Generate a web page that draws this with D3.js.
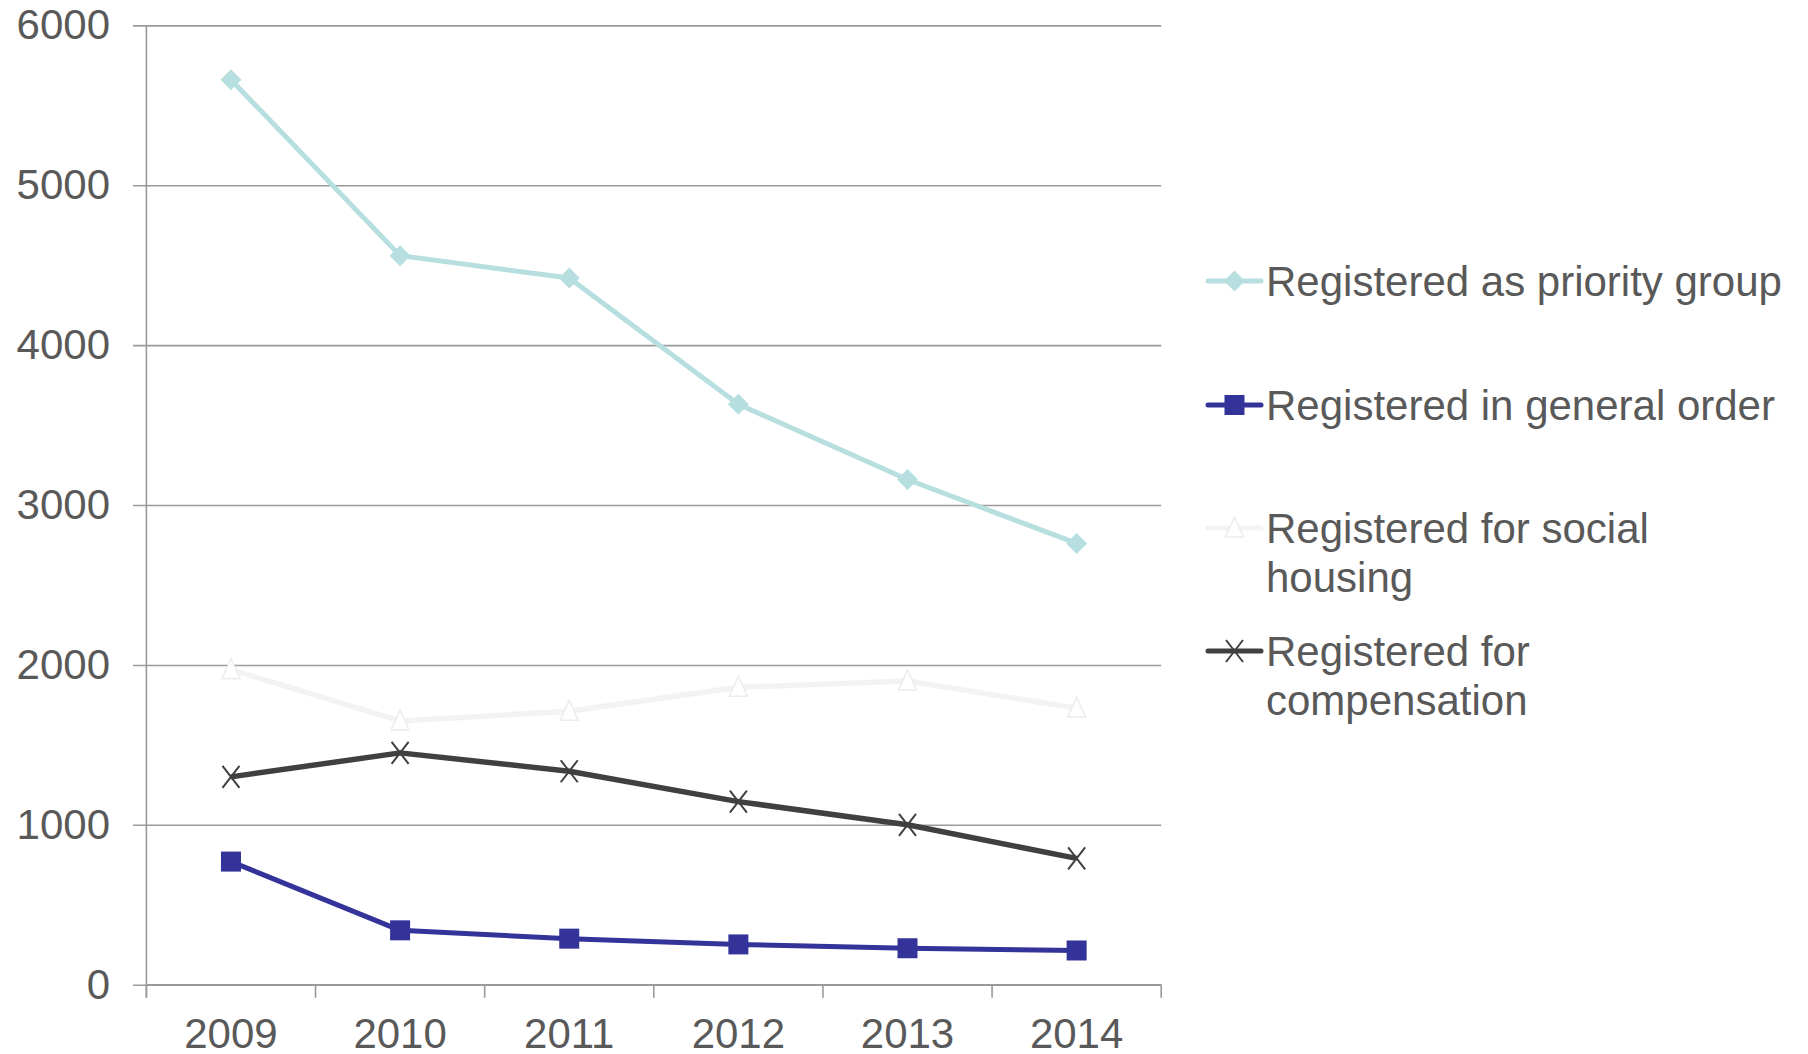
<!DOCTYPE html>
<html><head><meta charset="utf-8">
<script src="https://cdn.jsdelivr.net/npm/d3@7"></script>
<style>
html,body{margin:0;padding:0;background:#fff;}
svg{display:block;}
text{font-family:"Liberation Sans",Arial,sans-serif;fill:#595959;}
</style></head>
<body>
<svg id="chart" width="1808" height="1054"></svg>
<script>
const years = ["2009","2010","2011","2012","2013","2014"];
const yTicks = [0,1000,2000,3000,4000,5000,6000];
const priority = [5660,4560,4420,3630,3160,2760];
const general = [770,340,288,252,228,214];
const social = [1970,1650,1710,1860,1900,1730];
const compensation = [1300,1450,1335,1145,1000,790];
const seriesNames = ["Registered as priority group","Registered in general order","Registered for social housing","Registered for compensation"];
const legendLines = [["Registered as priority group"],["Registered in general order"],["Registered for social","housing"],["Registered for","compensation"]];

(function(){
const svg = d3.select("#chart");
const pLeft = 146.4, pRight = 1161.2, pTop = 25.4, pBottom = 984.7;
const x = d3.scaleBand().domain(years).range([pLeft,pRight]).padding(0);
const y = d3.scaleLinear().domain([0,6000]).range([pBottom,pTop]);
const FS = 42;

// gridlines + y labels
const yAxis = d3.axisLeft(y).tickValues(yTicks).tickSize(-(pRight-133)).tickPadding(23).tickFormat(d3.format("d"));
const gy = svg.append("g").attr("transform","translate(133,0)").call(yAxis);
gy.select(".domain").remove();
gy.selectAll(".tick line").attr("stroke","#9a9a9a").attr("stroke-width",1.6);
gy.selectAll(".tick text").style("font-size",FS+"px").attr("fill","#595959").attr("font-family","Liberation Sans, Arial, sans-serif");

// y axis line
svg.append("line").attr("x1",pLeft).attr("x2",pLeft).attr("y1",pTop).attr("y2",pBottom+13)
  .attr("stroke","#9a9a9a").attr("stroke-width",1.6);
// x axis
svg.append("line").attr("x1",pLeft).attr("x2",pRight).attr("y1",pBottom).attr("y2",pBottom)
  .attr("stroke","#9a9a9a").attr("stroke-width",1.6);
const bounds = years.map(d=>x(d)).concat([x(years[years.length-1])+x.bandwidth()]);
svg.selectAll(".xt").data(bounds).enter().append("line")
  .attr("x1",d=>d).attr("x2",d=>d).attr("y1",pBottom).attr("y2",pBottom+13)
  .attr("stroke","#9a9a9a").attr("stroke-width",1.6);
svg.selectAll(".xl").data(years).enter().append("text")
  .attr("x",d=>x(d)+x.bandwidth()/2).attr("y",1048)
  .attr("text-anchor","middle").style("font-size",FS+"px").text(d=>d);

const cx = d=>x(d)+x.bandwidth()/2;
const line = d3.line().x((v,i)=>cx(years[i])).y(v=>y(v));

const series = [
  {vals:social, color:"#f3f3f3", w:5.5, marker:"tri"},
  {vals:compensation, color:"#404040", w:5.5, marker:"x"},
  {vals:general, color:"#333399", w:5, marker:"sq"},
  {vals:priority, color:"#b7dfe0", w:5, marker:"dia"}
];

function drawMarker(g, type, px, py, color){
  if(type==="dia"){
    g.append("path").attr("d",`M${px},${py-10.5}L${px+10.5},${py}L${px},${py+10.5}L${px-10.5},${py}Z`).attr("fill",color);
  } else if(type==="sq"){
    g.append("rect").attr("x",px-10).attr("y",py-10).attr("width",20).attr("height",20).attr("fill",color);
  } else if(type==="tri"){
    g.append("path").attr("d",`M${px},${py-11}L${px+9},${py+9}L${px-9},${py+9}Z`).attr("fill","#ffffff").attr("stroke","#ececec").attr("stroke-width",1.5);
  } else if(type==="x"){
    g.append("path").attr("d",`M${px-8.5},${py-11}L${px+8.5},${py+11}M${px+8.5},${py-11}L${px-8.5},${py+11}`).attr("stroke",color).attr("stroke-width",2).attr("fill","none");
  }
}

series.forEach(s=>{
  const g = svg.append("g");
  g.append("path").datum(s.vals).attr("d",line).attr("fill","none").attr("stroke",s.color).attr("stroke-width",s.w).attr("stroke-linejoin","round");
  s.vals.forEach((v,i)=>drawMarker(g,s.marker,cx(years[i]),y(v),s.color));
});

// legend
const legendY = [281,405,528,651];
const legendStyle = [
  {color:"#b7dfe0", w:5, marker:"dia"},
  {color:"#333399", w:5, marker:"sq"},
  {color:"#f3f3f3", w:5, marker:"tri"},
  {color:"#404040", w:5, marker:"x"}
];
legendLines.forEach((lines,i)=>{
  const g = svg.append("g");
  const ly = legendY[i], st = legendStyle[i];
  g.append("line").attr("x1",1208).attr("x2",1261).attr("y1",ly).attr("y2",ly)
    .attr("stroke",st.color).attr("stroke-width",st.w).attr("stroke-linecap","round");
  drawMarker(g, st.marker, 1234.5, ly, st.color);
  lines.forEach((t,j)=>{
    g.append("text").attr("x",1266).attr("y",ly+15+j*48.5).style("font-size",FS+"px").text(t);
  });
});
})();
</script>
</body></html>
